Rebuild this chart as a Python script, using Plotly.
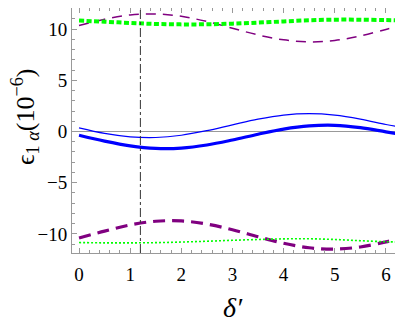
import plotly.graph_objects as go

# values
delta = [0, 0.5, 1.0, 1.5, 2.0, 2.5, 3.0, 3.5, 4.0, 4.5, 5.0, 5.5, 6.0, 6.28]

blue_thin = [0.35, -0.19, -0.52, -0.59, -0.37, 0.08, 0.65, 1.20, 1.60, 1.74, 1.60, 1.21, 0.68, 0.42]
blue_thick = [-0.37, -0.94, -1.40, -1.65, -1.62, -1.32, -0.83, -0.27, 0.23, 0.54, 0.60, 0.37, -0.04, -0.26]
purple_top = [10.35, 10.97, 11.38, 11.48, 11.25, 10.74, 10.08, 9.43, 8.95, 8.75, 8.89, 9.33, 9.97, 10.32]
purple_bottom = [-10.40, -9.73, -9.13, -8.77, -8.74, -9.04, -9.60, -10.28, -10.92, -11.36, -11.49, -11.28, -10.78, -10.45]
green_top = [10.83, 10.72, 10.60, 10.50, 10.46, 10.47, 10.53, 10.63, 10.75, 10.86, 10.92, 10.92, 10.88, 10.86]
green_bottom = [-10.85, -10.88, -10.88, -10.86, -10.80, -10.72, -10.63, -10.55, -10.49, -10.48, -10.55, -10.67, -10.77, -10.80]

marker_x = 1.2

SERIF = 'Liberation Serif, Times New Roman, serif'

fig = go.Figure()

series = [
    (purple_top, dict(color='#800080', width=1.5, dash='10px,7px')),
    (purple_bottom, dict(color='#800080', width=3.2, dash='12px,7px')),
    (green_top, dict(color='#00ff00', width=4, dash='5px,2.5px')),
    (green_bottom, dict(color='#00ff00', width=1.6, dash='2px,2px')),
    (blue_thin, dict(color='#0000ff', width=1.2)),
    (blue_thick, dict(color='#0000ff', width=3.2)),
]
for ys, ln in series:
    fig.add_trace(go.Scatter(x=delta, y=ys, mode='lines', line=dict(shape='spline', **ln),
                             showlegend=False))

fig.add_vline(x=marker_x, line=dict(color='#333333', width=1, dash='dashdot'))

axis_common = dict(
    showline=True, linecolor='#999999', linewidth=1, mirror='allticks',
    ticks='inside', ticklen=5, tickcolor='#999999', showgrid=False, automargin=False,
    tickfont=dict(family=SERIF, size=19, color='black'),
)

# axis titles as annotations so they sit where the reference has them
fig.add_annotation(text='<i>δ′</i>', xref='paper', yref='paper', x=0.489, y=-0.224,
                   xanchor='center', yanchor='middle', showarrow=False,
                   font=dict(family=SERIF, size=28, color='black'))
fig.add_annotation(text='ϵ<sub>1 <i>α</i></sub>(10<sup>−6</sup>)', xref='paper', yref='paper',
                   x=-0.143, y=0.555, xanchor='center', yanchor='middle', textangle=-90,
                   showarrow=False, font=dict(family=SERIF, size=26, color='black'))

# the page body adds an 8px margin, so the figure is sized to the visible window
fig.update_layout(
    width=395, height=319,
    margin=dict(l=64, r=2, t=0, b=74),
    plot_bgcolor='white', paper_bgcolor='white',
    font=dict(family=SERIF, color='black'),
    xaxis=dict(range=[-0.137, 6.295], tickvals=[0, 1, 2, 3, 4, 5, 6], zeroline=False,
               minor=dict(dtick=0.2, ticks='inside', ticklen=3, tickcolor='#999999'),
               ticklabelstandoff=4,
               **axis_common),
    yaxis=dict(range=[-11.87, 12.06], tickvals=[-10, -5, 0, 5, 10], zeroline=True,
               zerolinecolor='#999999', zerolinewidth=1,
               minor=dict(dtick=1, ticks='inside', ticklen=3, tickcolor='#999999'),
               **axis_common),
)

fig.write_html("out.html")
